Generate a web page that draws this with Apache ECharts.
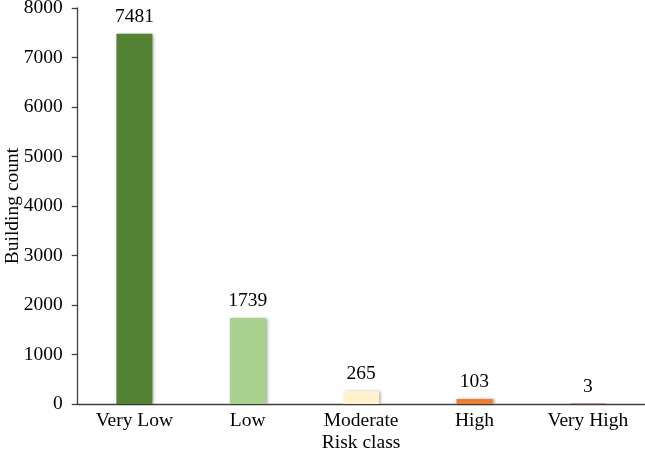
<!DOCTYPE html>
<html>
<head>
<meta charset="utf-8">
<script src="https://cdn.jsdelivr.net/npm/echarts@6/dist/echarts.min.js"></script>
<style>html,body{margin:0;padding:0;background:#fff}#c{width:645px;height:461px}</style>
</head>
<body>
<div id="c"></div>
<script>
var categories = ["Very Low", "Low", "Moderate", "High", "Very High"];
var buildingCounts = [7481, 1739, 265, 103, 3];
var barColors = ["#548235", "#A9D18E", "#FFF2CC", "#ED7D31", "#C00000"];
var yTicks = [0, 1000, 2000, 3000, 4000, 5000, 6000, 7000, 8000];

var font = "Liberation Serif";
var fs = 19.5;
var chart = echarts.init(document.getElementById('c'));
chart.setOption({
  animation: false,
  backgroundColor: '#fff',
  grid: {left: 77.7, right: 0.5, top: 8, bottom: 57, containLabel: false, outerBoundsMode: 'none'},
  xAxis: {
    type: 'category',
    data: categories,
    name: 'Risk class',
    nameLocation: 'middle',
    nameGap: 29,
    nameMoveOverlap: false,
    nameTextStyle: {fontFamily: font, fontSize: fs, color: '#000'},
    axisLine: {lineStyle: {color: '#404040', width: 1.3}},
    axisTick: {show: false},
    axisLabel: {fontFamily: font, fontSize: fs, color: '#000', margin: 7}
  },
  yAxis: {
    type: 'value',
    min: yTicks[0],
    max: yTicks[yTicks.length - 1],
    interval: 1000,
    name: 'Building count',
    nameLocation: 'middle',
    nameGap: 55,
    nameMoveOverlap: false,
    nameTextStyle: {fontFamily: font, fontSize: fs, color: '#000'},
    splitLine: {show: false},
    axisLine: {show: true, lineStyle: {color: '#404040', width: 1.3}},
    axisTick: {show: true, length: 6, lineStyle: {color: '#404040', width: 1.3}},
    axisLabel: {fontFamily: font, fontSize: fs, color: '#000', margin: 15,
      formatter: function (v) { return String(v); }}
  },
  series: [{
    type: 'bar',
    barWidth: 36,
    data: buildingCounts.map(function (v, i) {
      return {value: v, itemStyle: {color: barColors[i]}};
    }),
    itemStyle: {shadowColor: 'rgba(0,0,0,0.35)', shadowBlur: 3, shadowOffsetX: 2, shadowOffsetY: 0},
    label: {show: true, position: 'top', distance: 7, fontFamily: font, fontSize: fs, color: '#000'}
  }]
});
</script>
</body>
</html>
